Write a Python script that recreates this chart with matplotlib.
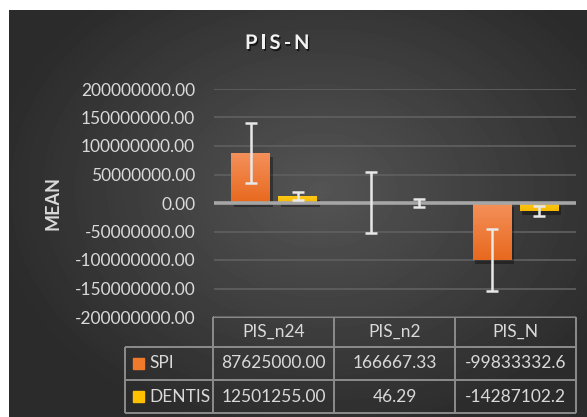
import numpy as np
import matplotlib
matplotlib.use('Agg')
import matplotlib.pyplot as plt
from matplotlib import patheffects as pe
from matplotlib.patches import Rectangle
from matplotlib.colors import LinearSegmentedColormap

categories = ['PIS_n24', 'PIS_n2', 'PIS_N']
series = ['SPI', 'DENTIS']
spi = [87625000.00, 166667.33, -99833332.6]
dentis = [12501255.00, 46.29, -14287102.2]
spi_err = [53000000, 53500000, 54000000]
dentis_err = [7000000, 7500000, 8200000]
yticks = np.arange(-200000000, 200000001, 50000000)

W, H = 587, 417
TXT = '#D9D9D9'
plt.rcParams['font.family'] = ['Lato', 'DejaVu Sans']

fig = plt.figure(figsize=(W / 100, H / 100), dpi=100, facecolor='white')

# background (pixel coordinates)
bg = fig.add_axes([0, 0, 1, 1], zorder=0)
bg.set_xlim(0, W)
bg.set_ylim(H, 0)
bg.axis('off')
yy, xx = np.mgrid[10:H, 9:W]
r = np.hypot((xx - 320) / 330.0, (yy - 190) / 250.0)
shade = 0.33 - 0.16 * np.clip(r, 0, 1)
bg.imshow(shade, cmap='gray', vmin=0, vmax=1, extent=(9, W, H, 10),
          aspect='auto', interpolation='bilinear', zorder=0)

# main plot
ax = fig.add_axes([214 / W, (H - 317) / H, (576 - 214) / W, (317 - 89) / H], zorder=2)
ax.set_facecolor('none')
x = np.arange(len(categories))
off, bw = 0.195, 0.323


def shade_bar(bar, top, bottom):
    x0, y0 = bar.get_x(), bar.get_y()
    w, h = bar.get_width(), bar.get_height()
    grad = np.linspace(0, 1, 64).reshape(-1, 1)
    cmap = LinearSegmentedColormap.from_list('g', [top, bottom])
    im = ax.imshow(grad, cmap=cmap, extent=(x0, x0 + w, min(y0, y0 + h), max(y0, y0 + h)),
                   aspect='auto', origin='upper', zorder=2.1)
    im.set_clip_path(bar)


shadow = [pe.SimplePatchShadow(offset=(2, -3), shadow_rgbFace='black', alpha=0.35), pe.Normal()]
b1 = ax.bar(x - off, spi, bw, color='#F07A2C', zorder=2)
b2 = ax.bar(x + off, dentis, bw, color='#FFC000', zorder=2)
for b in b1:
    b.set_path_effects(shadow)
    shade_bar(b, '#F4905A', '#E8691E')
for b in b2:
    b.set_path_effects(shadow)
    shade_bar(b, '#FFCB1A', '#F7B800')

ax.errorbar(x - off, spi, yerr=spi_err, fmt='none', ecolor='#E8E8E8',
            elinewidth=1.8, capsize=4, capthick=1.8, zorder=4)
ax.errorbar(x + off, dentis, yerr=dentis_err, fmt='none', ecolor='#E8E8E8',
            elinewidth=1.8, capsize=4, capthick=1.8, zorder=4)
ax.axhline(0, color='#A6A6A6', lw=2.6, zorder=3)

ax.set_xlim(-0.5, len(categories) - 0.5)
ax.set_ylim(-200000000, 200000000)
ax.set_yticks(yticks)
ax.set_yticklabels(['%.2f' % v for v in yticks])
ax.set_xticks([])
ax.yaxis.grid(True, color='#5E5E5E', lw=1.3)
ax.set_axisbelow(True)
for s in ax.spines.values():
    s.set_visible(False)
ax.tick_params(axis='y', length=0, pad=13.5, labelsize=12.5, labelcolor=TXT)

bg.text(53, 203, 'MEAN', rotation=90, ha='center', va='center',
        fontsize=13, fontweight='bold', color=TXT)

# title with letter spacing
renderer = fig.canvas.get_renderer()
tx = 245
for ch in 'PIS-N':
    t = bg.text(tx, 49, ch, fontsize=14.5, fontweight='bold', color='#F2F2F2',
                va='baseline', ha='left', zorder=5,
                path_effects=[pe.SimplePatchShadow(offset=(1, -1.5), shadow_rgbFace='black', alpha=0.6),
                              pe.Normal()])
    tx += t.get_window_extent(renderer).width + 3

# data table
cols = [213, 334, 455, 576]
rows = [317, 347, 380, 413]
lx = 125
lc = '#8C8C8C'
bg.hlines(rows[0], cols[0], cols[-1], color=lc, lw=1.4, zorder=3)
bg.hlines(rows[1:], lx, cols[-1], color=lc, lw=1.4, zorder=3)
bg.vlines(lx, rows[1], rows[-1], color=lc, lw=1.4, zorder=3)
bg.vlines(cols, rows[0], rows[-1], color=lc, lw=1.4, zorder=3)
for i, c in enumerate(categories):
    cx = (cols[i] + cols[i + 1]) / 2
    bg.text(cx, (rows[0] + rows[1]) / 2, c, ha='center', va='center', fontsize=12.5, color=TXT)
    for j, vals in enumerate([spi, dentis]):
        bg.text(cx, (rows[j + 1] + rows[j + 2]) / 2, ('%.2f' % vals[i])[:11],
                ha='center', va='center', fontsize=12.5, color=TXT)
for j, (name, col) in enumerate(zip(series, ['#F07A2C', '#FFC000'])):
    cy = (rows[j + 1] + rows[j + 2]) / 2
    bg.add_patch(Rectangle((133, cy - 5.5), 11, 11, color=col, zorder=3))
    bg.text(149, cy, name, ha='left', va='center', fontsize=12.5, color=TXT)

fig.savefig('out.png', dpi=100, facecolor='white')
